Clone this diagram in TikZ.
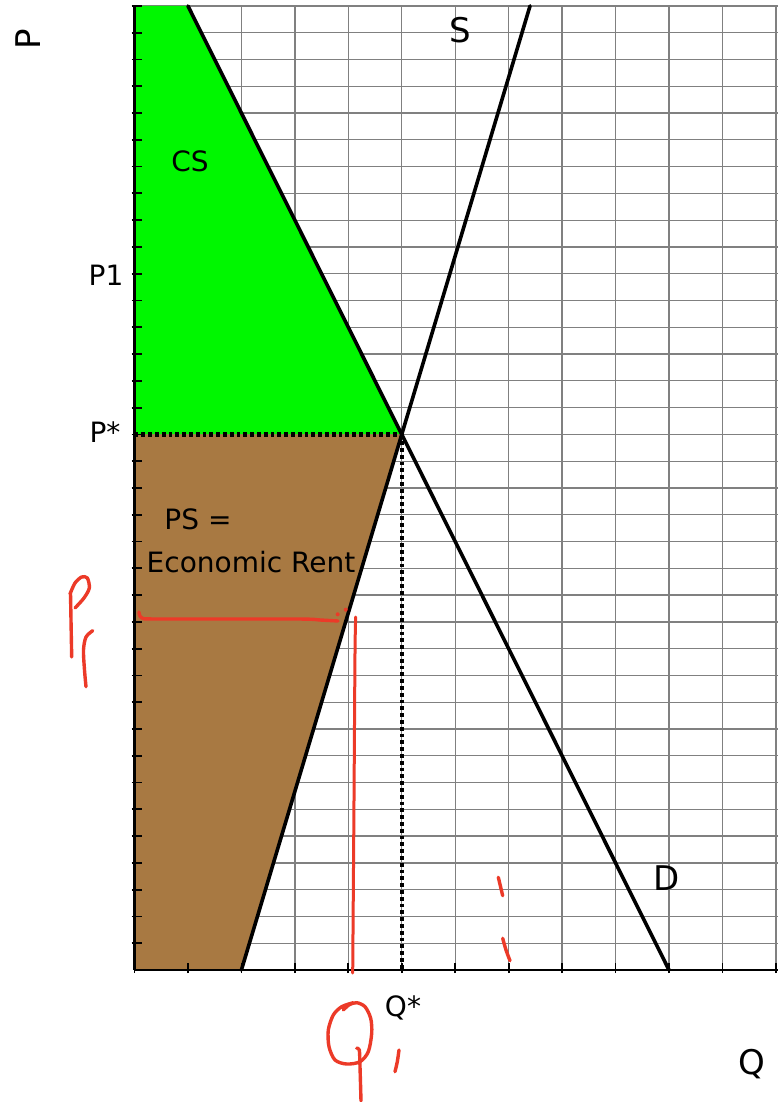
\documentclass[tikz,border=0pt]{standalone}
\usepackage{fontspec}
\setmainfont{DejaVu Sans}
\definecolor{redink}{RGB}{236,58,40}
\definecolor{csgreen}{RGB}{0,247,0}
\definecolor{psbrown}{RGB}{168,121,66}
\begin{document}
\begin{tikzpicture}[x=1pt,y=1pt,
  gridline/.style={draw=black!50, line width=1.3pt},
  curve/.style={line width=3.6pt, draw=black, line cap=round},
  axisline/.style={line width=2.5pt, draw=black},
  tickmark/.style={line width=1.8pt, draw=black},
  dotline/.style={line width=4.2pt, draw=black, dash pattern=on 3.8pt off 3pt},
  ink/.style={draw=redink, line width=3.4pt, line cap=round, line join=round},
  small/.style={font=\fontsize{28}{32}\selectfont, inner sep=0pt, anchor=base},
  big/.style={font=\fontsize{34}{38}\selectfont, inner sep=0pt, anchor=base}]
\useasboundingbox (0,-1102) rectangle (778,0);
\fill[white] (0,-1102) rectangle (778,0);
\begin{scope}[shift={(134.5pt,-970pt)}, x=53.45pt, y=26.78pt]
  % grid
  \foreach \i in {1,...,12} \draw[gridline] (\i,0) -- (\i,36);
  \foreach \j in {1,...,36} \draw[gridline] (0,\j) -- (12.05,\j);
  % key points
  \coordinate (O) at (0,0);
  \coordinate (Ytop) at (0,36);
  \coordinate (Xend) at (12.05,0);
  \coordinate (Dtop) at (1,36);
  \coordinate (Dbot) at (10,0);
  \coordinate (Sbot) at (2,0);
  \coordinate (Stop) at (7.4,36);
  \coordinate (Eq) at (5,20);
  \coordinate (Pstar) at (0,20);
  \coordinate (Qstar) at (5,0);
  % surpluses
  \fill[csgreen] (Ytop) -- (Dtop) -- (Eq) -- (Pstar) -- cycle;
  \fill[psbrown] (Pstar) -- (Eq) -- (Sbot) -- (O) -- cycle;
  % dotted guides
  \draw[dotline] (Pstar) -- (Eq);
  \draw[dotline] (Eq) -- (Qstar);
  % curves
  \draw[curve] (Dtop) -- (Dbot);
  \draw[curve] (Sbot) -- (Stop);
  % axes
  \draw[axisline] (O) -- (Ytop);
  \draw[axisline] (O) -- (Xend);
  \foreach \j in {1,...,36} \draw[tickmark] (0,\j) +(-3pt,0) -- +(7pt,0);
  \foreach \i in {0,...,12} \draw[tickmark] (\i,0) +(0,-3pt) -- +(0,7pt);
\end{scope}
% labels
\node[big, anchor=center, rotate=90] (Plab) at (28,-39) {P};
\node[big] (Slab) at (460.5,-42.5) {S};
\node[big] (Dlab) at (667,-890) {D};
\node[big] (Qlab) at (751.7,-1074) {Q};
\node[small] (CSlab) at (190,-171.5) {CS};
\node[small] (P1lab) at (106,-285) {P1};
\node[small] (Pslab) at (105,-442.5) {P*};
\node[small] (PSlab) at (198,-529) {PS =};
\node[small] (ERlab) at (251,-572.5) {Economic Rent};
\node[small] (Qslab) at (403,-1016.5) {Q*};
% red handwriting
\draw[ink] plot[smooth] coordinates {(70.5,-593) (71,-620) (71.7,-657)};
\draw[ink] plot[smooth] coordinates {(70,-594) (75,-583) (81.7,-577) (87.3,-578) (89.3,-588) (84,-598) (75,-608)};
\draw[ink] plot[smooth] coordinates {(92.7,-630.7) (86,-637) (83.5,-650) (84.5,-670) (86,-686.7)};
\draw[ink] plot[smooth] coordinates {(139,-612) (142,-618) (160,-619) (297,-619) (320,-620) (338,-621)};
\fill[redink] (337.7,-614.3) circle (2);
\fill[redink] (345.7,-609.7) circle (2);
\draw[ink, line width=3pt] plot[smooth] coordinates {(355.7,-617) (355,-653) (354,-800) (352.7,-973)};
\draw[ink] (498.3,-877.3) -- (502.7,-895.7);
\draw[ink] plot[smooth] coordinates {(502.7,-938.3) (506,-950) (510,-960.7)};
\draw[ink] plot[smooth] coordinates {(343.3,-1010) (349.3,-1004.7) (356.7,-1002.7) (365,-1006.7) (370.7,-1018.3) (371.7,-1033.3) (368.3,-1051.7) (360,-1061.7) (346.7,-1064) (335,-1060) (329,-1046.7) (328.3,-1030) (333.3,-1015) (341.7,-1006.7) (353.3,-1002.7)};
\draw[ink] plot[smooth] coordinates {(356.7,-1048.3) (359.3,-1050) (360,-1066.7) (361,-1101)};
\draw[ink] plot[smooth] coordinates {(399,-1050) (397.3,-1061.7) (395,-1071.7)};
\end{tikzpicture}
\end{document}
